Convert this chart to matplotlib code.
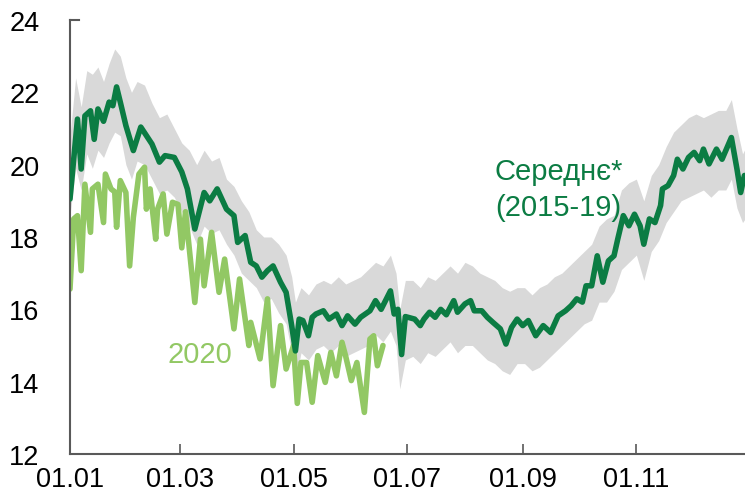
import matplotlib
matplotlib.use("Agg")
import matplotlib.pyplot as plt

plt.rcParams['font.family'] = ['Liberation Sans', 'DejaVu Sans']

# ---- data -------------------------------------------------------------
avg_days = [0, 4, 6, 8, 11, 13, 15, 18, 21, 23, 25, 27, 30, 34, 38, 44, 48, 51, 56, 60,
            63, 67, 72, 75, 79, 84, 88, 90, 94, 97, 100, 103, 106, 109, 113, 116, 119, 121,
            123, 125, 128, 130, 132, 136, 139, 143, 146, 149, 153, 156, 161, 164, 167, 172,
            174, 176, 178, 180, 185, 188, 190, 193, 196, 199, 202, 206, 208, 212, 215, 217,
            221, 224, 227, 231, 234, 237, 240, 243, 246, 250, 254, 258, 262, 266, 269, 272,
            275, 277, 280, 283, 286, 289, 292, 294, 297, 300, 303, 306, 308, 311, 314, 317,
            318, 321, 324, 326, 329, 332, 335, 338, 340, 343, 347, 350, 352, 355, 358, 360,
            362, 365]
avg_vals = [19.05, 21.26, 19.88, 21.35, 21.49, 20.70, 21.54, 21.20, 21.73, 21.63, 22.15, 21.73,
            21.08, 20.39, 21.04, 20.57, 20.07, 20.25, 20.20, 19.80,
            19.33, 18.22, 19.23, 19.00, 19.33, 18.77, 18.59, 17.85, 18.04, 17.30, 17.20, 16.89,
            17.07, 17.20, 16.75, 16.47, 15.55, 14.85,
            15.73, 15.69, 15.27, 15.78, 15.87, 15.96, 15.73, 15.87, 15.55, 15.82, 15.59, 15.78,
            15.96, 16.24, 16.00, 16.51,
            15.87, 16.00, 14.75, 15.80, 15.73, 15.55, 15.73, 15.92, 15.78, 16.00, 15.85, 16.24,
            15.92, 16.15, 16.24, 15.96,
            15.96, 15.78, 15.64, 15.46, 15.04, 15.50, 15.73, 15.55, 15.69, 15.27, 15.55, 15.36,
            15.82, 15.96, 16.10, 16.29,
            16.20, 16.65, 16.65, 17.48, 16.75, 17.34, 17.48, 17.94, 18.59, 18.31, 18.63, 18.31,
            17.80, 18.50, 18.40, 18.87,
            19.33, 19.42, 19.70, 20.15, 19.88, 20.20, 20.34, 20.11, 20.43, 20.02, 20.43, 20.15,
            20.39, 20.75, 19.88, 19.23,
            19.70, 19.70]

band_days = [0, 3, 6, 9, 12, 15, 18, 21, 24, 27, 30, 33, 36, 40, 44, 48, 52, 56, 60, 64, 68,
             72, 76, 80, 84, 88, 92, 96, 100, 104, 108, 112, 116, 119, 121, 124, 128, 132, 136,
             140, 144, 148, 152, 156, 160, 164, 168, 172, 175, 177, 180, 184, 188, 192, 196,
             200, 204, 208, 212, 216, 220, 224, 228, 232, 236, 240, 244, 248, 252, 256, 260,
             264, 268, 272, 276, 280, 284, 288, 292, 296, 300, 304, 308, 312, 316, 320, 324,
             328, 332, 336, 340, 344, 348, 352, 355, 358, 361, 365]
band_upper = [20.8, 22.4, 21.6, 22.6, 22.5, 22.7, 22.3, 22.8, 23.2, 23.0, 22.4, 22.0, 22.3,
              22.2, 21.7, 21.3, 21.4, 21.0, 20.6, 20.4, 20.0,
              20.4, 20.1, 20.2, 19.6, 19.4, 19.0, 18.7, 18.2, 18.0, 18.0, 17.8, 17.5, 16.9,
              16.2, 16.6, 16.4, 16.7, 16.8,
              16.7, 16.9, 16.7, 16.8, 16.9, 17.1, 17.3, 17.2, 17.5, 17.0, 16.0, 16.8, 16.8,
              16.6, 16.9, 16.8,
              17.0, 17.2, 17.0, 17.3, 17.2, 17.0, 16.9, 16.8, 16.6, 16.5, 16.6, 16.6, 16.4,
              16.6, 16.7, 16.9,
              17.0, 17.2, 17.4, 17.6, 17.8, 18.3, 18.5, 18.6, 19.3, 19.5, 19.6, 19.0, 19.7,
              20.0, 20.5, 20.9,
              21.1, 21.3, 21.4, 21.3, 21.4, 21.5, 21.5, 21.8, 21.0, 20.3, 20.7]
band_lower = [18.6, 19.9, 19.3, 20.3, 19.9, 20.4, 20.2, 20.6, 20.9, 20.8, 20.0, 19.6, 20.1,
              20.0, 19.6, 19.2, 19.3, 19.1, 18.7, 18.3, 17.8,
              18.3, 18.1, 18.2, 17.8, 17.5, 17.0, 16.8, 16.6, 16.2, 16.3, 15.9, 15.6, 14.8,
              14.0, 14.8, 14.6, 14.9, 15.0,
              14.8, 15.0, 14.7, 14.8, 14.9, 15.0, 15.3, 15.1, 15.4, 15.0, 13.8, 14.6, 14.7,
              14.5, 14.8, 14.7,
              14.9, 15.1, 14.8, 15.0, 15.0, 14.8, 14.6, 14.5, 14.3, 14.2, 14.5, 14.5, 14.3,
              14.4, 14.6, 14.8,
              15.0, 15.2, 15.4, 15.6, 15.7, 16.2, 16.2, 16.5, 17.1, 17.3, 17.5, 16.8, 17.6,
              17.9, 18.4, 18.7,
              19.0, 19.1, 19.2, 19.3, 19.1, 19.3, 19.3, 19.6, 18.8, 18.4, 18.7]

y2020_days = [0, 2, 4, 6, 8, 11, 12, 15, 18, 19, 22, 24, 25, 27, 30, 32, 34, 37, 40, 41, 43,
              46, 47, 50, 52, 55, 58, 60, 62, 67, 70, 72, 76, 80, 83, 88, 91, 96, 97, 102,
              106, 109, 113, 116, 120, 122, 124, 127, 130, 133, 137, 140, 143, 146, 148, 151,
              154, 158, 161, 163, 165, 168]
y2020_vals = [16.56, 18.50, 18.59, 17.07, 19.46, 18.13, 19.33, 19.46, 18.40, 19.74, 19.33,
              19.25, 18.27, 19.56, 19.23, 17.20, 18.54, 19.74, 19.93, 18.77, 19.33,
              17.94, 18.77, 19.19, 18.08, 18.96, 18.90, 17.70, 18.70, 16.19, 17.94, 16.65,
              18.13, 16.47, 17.39, 15.46, 16.84, 15.00, 15.64, 14.63,
              16.29, 13.89, 15.55, 14.35, 15.00, 13.40, 14.53, 14.53, 13.43, 14.72, 13.98,
              14.81, 14.16, 15.09, 14.70, 14.03,
              14.53, 13.15, 15.18, 15.27, 14.44, 15.00]

tick_days = [0, 59, 120, 181, 243, 304]
tick_labels = ["01.01", "01.03", "01.05", "01.07", "01.09", "01.11"]
y_ticks = [12, 14, 16, 18, 20, 22, 24]

# ---- style ------------------------------------------------------------
DARK = "#0B7C43"
LIGHT = "#92C864"
GREY = "#D9D9D9"
AXIS = "#595959"

fig = plt.figure(figsize=(7.45, 5.02), dpi=100)
ax = fig.add_axes([70 / 745, 47 / 502, 680 / 745, 434 / 502])

ax.fill_between(band_days, band_lower, band_upper, color=GREY, lw=0, zorder=1)
ax.plot(avg_days, avg_vals, color=DARK, lw=4.0, solid_joinstyle='round',
        solid_capstyle='round', zorder=3)
ax.plot(y2020_days, y2020_vals, color=LIGHT, lw=4.0, solid_joinstyle='round',
        solid_capstyle='round', zorder=2)

ax.set_xlim(0, 365)
ax.set_ylim(12, 24)
ax.set_xticks(tick_days)
ax.set_xticklabels(tick_labels)
ax.set_yticks(y_ticks)

for s in ['top', 'right']:
    ax.spines[s].set_visible(False)
for s in ['left', 'bottom']:
    ax.spines[s].set_color(AXIS)
    ax.spines[s].set_linewidth(1.5)

ax.tick_params(axis='x', direction='in', length=7, width=1.2, color=AXIS,
               labelsize=19.5, pad=9, labelcolor='black')
ax.tick_params(axis='y', length=0, labelsize=19.5, pad=22, labelcolor='black')
ax.plot([0, 5], [24, 24], color=AXIS, lw=1.5, clip_on=False, zorder=4)

ax.text(228, 19.82, "Середнє*", color=DARK, fontsize=21, ha='left', va='center')
ax.text(228, 18.83, "(2015-19)", color=DARK, fontsize=21, ha='left', va='center')
ax.text(52.6, 14.76, "2020", color=LIGHT, fontsize=21, ha='left', va='center')

fig.savefig("out.png", dpi=100)
